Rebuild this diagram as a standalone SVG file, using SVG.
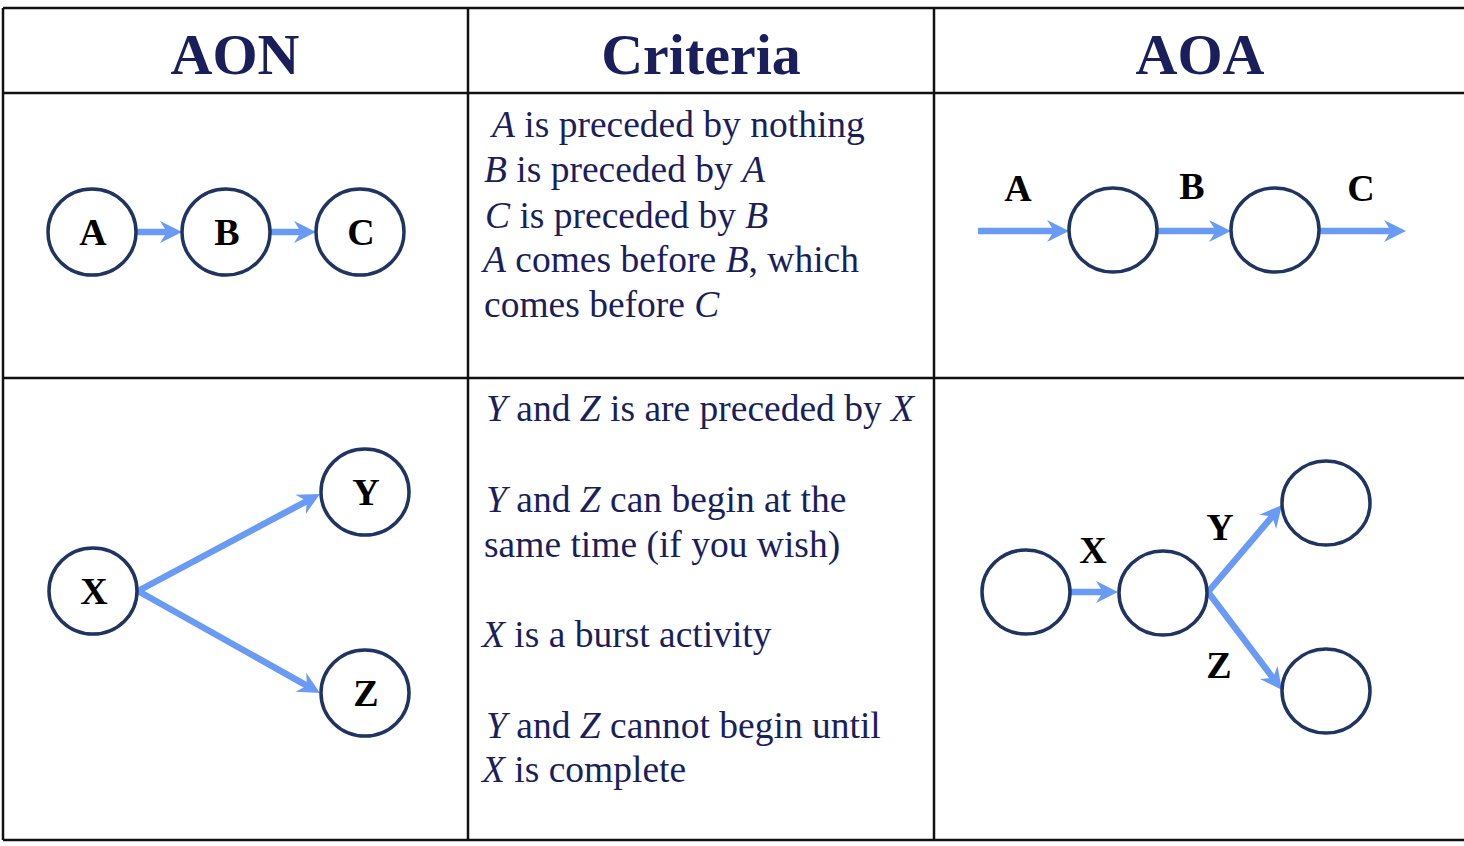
<svg xmlns="http://www.w3.org/2000/svg" xmlns:xlink="http://www.w3.org/1999/xlink" width="1464" height="846" viewBox="0 0 1464 846">
<style>
.grid{stroke:#111;stroke-width:2.5;fill:none}
.hdr{font-family:"Liberation Serif",serif;font-weight:bold;font-size:58px;fill:#1a1f5c;text-anchor:middle}
.node{fill:#fff;stroke:#1f3461;stroke-width:3.5}
.lbl{font-family:"Liberation Serif",serif;font-weight:bold;font-size:38px;fill:#000;text-anchor:middle}
.crit{font-family:"Liberation Serif",serif;font-size:37.5px;fill:#1a1f5c}
.crit tspan.i{font-style:italic}
.edge{stroke:#6a9bf4;stroke-width:6.5;fill:none}
.head{fill:#6a9bf4}
</style>
<defs>
<path id="ah" class="head" d="M0,0 L-22,-11 L-15,0 L-22,11 z"/>
</defs>
<rect width="1464" height="846" fill="#fff"/>
<g id="table">
<line class="grid" x1="3" y1="8" x2="1464" y2="8"/>
<line class="grid" x1="3" y1="93" x2="1464" y2="93"/>
<line class="grid" x1="3" y1="378" x2="1464" y2="378"/>
<line class="grid" x1="3" y1="840" x2="1464" y2="840"/>
<line class="grid" x1="3" y1="8" x2="3" y2="840"/>
<line class="grid" x1="468" y1="8" x2="468" y2="840"/>
<line class="grid" x1="934" y1="8" x2="934" y2="840"/>
</g>
<g id="headers">
<text class="hdr" x="235" y="74">AON</text>
<text class="hdr" x="701" y="74">Criteria</text>
<text class="hdr" x="1200" y="74">AOA</text>
</g>
<g id="connectors">
<line class="edge" x1="137" y1="232" x2="174" y2="232"/>
<use xlink:href="#ah" href="#ah" transform="translate(182,232)"/>
<line class="edge" x1="271" y1="232" x2="308" y2="232"/>
<use xlink:href="#ah" href="#ah" transform="translate(316,232)"/>
<line class="edge" x1="978" y1="231" x2="1061" y2="231"/>
<use xlink:href="#ah" href="#ah" transform="translate(1069,231)"/>
<line class="edge" x1="1158" y1="231" x2="1223" y2="231"/>
<use xlink:href="#ah" href="#ah" transform="translate(1231,231)"/>
<line class="edge" x1="1320" y1="231" x2="1398" y2="231"/>
<use xlink:href="#ah" href="#ah" transform="translate(1406,231)"/>
<line class="edge" x1="138" y1="591" x2="312.9" y2="497.8"/>
<use xlink:href="#ah" href="#ah" transform="translate(320,494) rotate(-28.06)"/>
<line class="edge" x1="138" y1="591" x2="313" y2="689.1"/>
<use xlink:href="#ah" href="#ah" transform="translate(320,693) rotate(29.27)"/>
<line class="edge" x1="1071" y1="592" x2="1110" y2="592"/>
<use xlink:href="#ah" href="#ah" transform="translate(1118,592)"/>
<line class="edge" x1="1208" y1="592" x2="1276.8" y2="511.1"/>
<use xlink:href="#ah" href="#ah" transform="translate(1282,505) rotate(-49.62)"/>
<line class="edge" x1="1208" y1="592" x2="1277.2" y2="683.6"/>
<use xlink:href="#ah" href="#ah" transform="translate(1282,690) rotate(52.94)"/>
</g>
<g id="aon-A"><ellipse class="node" cx="92" cy="232" rx="44" ry="43"/><text class="lbl" x="93" y="245">A</text></g>
<g id="aon-B"><ellipse class="node" cx="226" cy="232" rx="44" ry="43"/><text class="lbl" x="227" y="245">B</text></g>
<g id="aon-C"><ellipse class="node" cx="360" cy="232" rx="44" ry="43"/><text class="lbl" x="361" y="245">C</text></g>
<g id="aon-X"><ellipse class="node" cx="93" cy="591" rx="44" ry="43"/><text class="lbl" x="94" y="604">X</text></g>
<g id="aon-Y"><ellipse class="node" cx="365" cy="492" rx="44" ry="43"/><text class="lbl" x="366" y="505">Y</text></g>
<g id="aon-Z"><ellipse class="node" cx="365" cy="693" rx="44" ry="43"/><text class="lbl" x="366" y="706">Z</text></g>
<g id="aoa1-n1"><ellipse class="node" cx="1113" cy="230" rx="44" ry="42"/></g>
<g id="aoa1-n2"><ellipse class="node" cx="1275" cy="230" rx="44" ry="42"/></g>
<g id="aoa1-labels">
<text class="lbl" x="1018" y="201">A</text>
<text class="lbl" x="1192" y="199">B</text>
<text class="lbl" x="1361" y="201">C</text>
</g>
<g id="aoa2-n1"><ellipse class="node" cx="1026" cy="592" rx="44" ry="42"/></g>
<g id="aoa2-n2"><ellipse class="node" cx="1163" cy="593" rx="44" ry="42"/></g>
<g id="aoa2-n3"><ellipse class="node" cx="1326" cy="503" rx="44" ry="42"/></g>
<g id="aoa2-n4"><ellipse class="node" cx="1326" cy="691" rx="44" ry="42"/></g>
<g id="aoa2-labels">
<text class="lbl" x="1093" y="563">X</text>
<text class="lbl" x="1220" y="540">Y</text>
<text class="lbl" x="1219" y="678">Z</text>
</g>
<g id="criteria1">
<text class="crit" x="492" y="137"><tspan class="i">A</tspan> is preceded by nothing</text>
<text class="crit" x="484" y="182"><tspan class="i">B</tspan> is preceded by <tspan class="i">A</tspan></text>
<text class="crit" x="485" y="228"><tspan class="i">C</tspan> is preceded by <tspan class="i">B</tspan></text>
<text class="crit" x="483" y="272"><tspan class="i">A</tspan> comes before <tspan class="i">B</tspan>, which</text>
<text class="crit" x="484" y="317">comes before <tspan class="i">C</tspan></text>
</g>
<g id="criteria2">
<text class="crit" x="486" y="421"><tspan class="i">Y</tspan> and <tspan class="i">Z</tspan> is are preceded by <tspan class="i">X</tspan></text>
<text class="crit" x="486" y="512"><tspan class="i">Y</tspan> and <tspan class="i">Z</tspan> can begin at the</text>
<text class="crit" x="484" y="557">same time (if you wish)</text>
<text class="crit" x="482" y="647"><tspan class="i">X</tspan> is a burst activity</text>
<text class="crit" x="486" y="738"><tspan class="i">Y</tspan> and <tspan class="i">Z</tspan> cannot begin until</text>
<text class="crit" x="482" y="782"><tspan class="i">X</tspan> is complete</text>
</g>
</svg>
